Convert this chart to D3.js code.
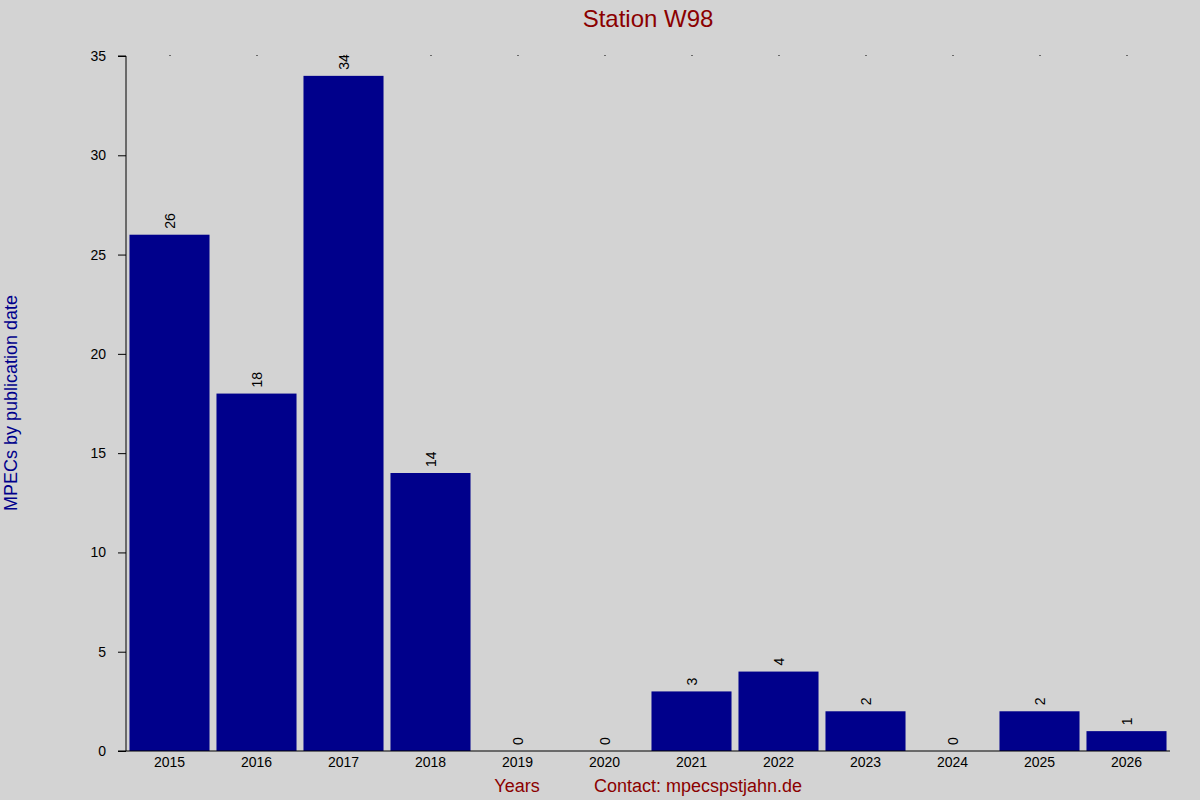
<!DOCTYPE html><html><head><meta charset="utf-8">
<script src="https://cdn.jsdelivr.net/npm/d3@7"></script>
<style>body{margin:0;background:#d3d3d3}svg{display:block}text{font-family:Arial,"Liberation Sans",sans-serif}</style>
</head><body><svg id="c" width="1200" height="800"></svg>
<script>
const years=["2015","2016","2017","2018","2019","2020","2021","2022","2023","2024","2025","2026"];
const counts=[26,18,34,14,0,0,3,4,2,0,2,1];
const yTicks=[0,5,10,15,20,25,30,35];
const svg=d3.select("#c");
svg.append("rect").attr("width",1200).attr("height",800).attr("fill","#d3d3d3");
const L=126,R=1170,T=56,B=751;
const x=d3.scaleBand().domain(years).range([L,R]).paddingInner(0.08).paddingOuter(0.04);
const y=d3.scaleLinear().domain([0,35]).range([B,T]);
svg.selectAll(".bar").data(years).join("rect").attr("fill","#00008b")
 .attr("x",d=>x(d)).attr("width",x.bandwidth())
 .attr("y",(d,i)=>y(counts[i])).attr("height",(d,i)=>B-y(counts[i]));
svg.selectAll(".lbl").data(years).join("text").attr("font-size",14).attr("fill","#000")
 .attr("transform",(d,i)=>`translate(${x(d)+x.bandwidth()/2+5},${y(counts[i])-6}) rotate(-90)`)
 .text((d,i)=>counts[i]);
const ya=svg.append("g").attr("transform",`translate(${L},0)`).call(d3.axisLeft(y).tickValues(yTicks).tickSize(8).tickPadding(12));
const xa=svg.append("g").attr("transform",`translate(0,${B})`).call(d3.axisBottom(x).tickSize(0).tickPadding(6));
xa.select(".domain").attr("d",`M${L-8},0H${R}`);
ya.select(".domain").attr("d",`M0,${B}V${T}H-8`);
[ya,xa].forEach(a=>{a.selectAll("text").attr("font-size",14).attr("fill","#000").attr("font-family","Arial, Liberation Sans, sans-serif");a.selectAll("line,path").attr("stroke","#000");});
svg.selectAll(".dot").data(years).join("rect").attr("x",d=>x(d)+x.bandwidth()/2).attr("y",T-1).attr("width",1).attr("height",1).attr("fill","#000");
svg.append("text").attr("x",648).attr("y",27).attr("text-anchor","middle").attr("font-size",24).attr("fill","#8b0000").text("Station W98");
svg.append("text").attr("x",517).attr("y",792).attr("text-anchor","middle").attr("font-size",18).attr("fill","#8b0000").text("Years");
svg.append("text").attr("x",698).attr("y",792).attr("text-anchor","middle").attr("font-size",18).attr("fill","#8b0000").text("Contact: mpecspstjahn.de");
svg.append("text").attr("transform","translate(17,403) rotate(-90)").attr("text-anchor","middle").attr("font-size",18).attr("fill","#00008b").text("MPECs by publication date");
</script></body></html>
